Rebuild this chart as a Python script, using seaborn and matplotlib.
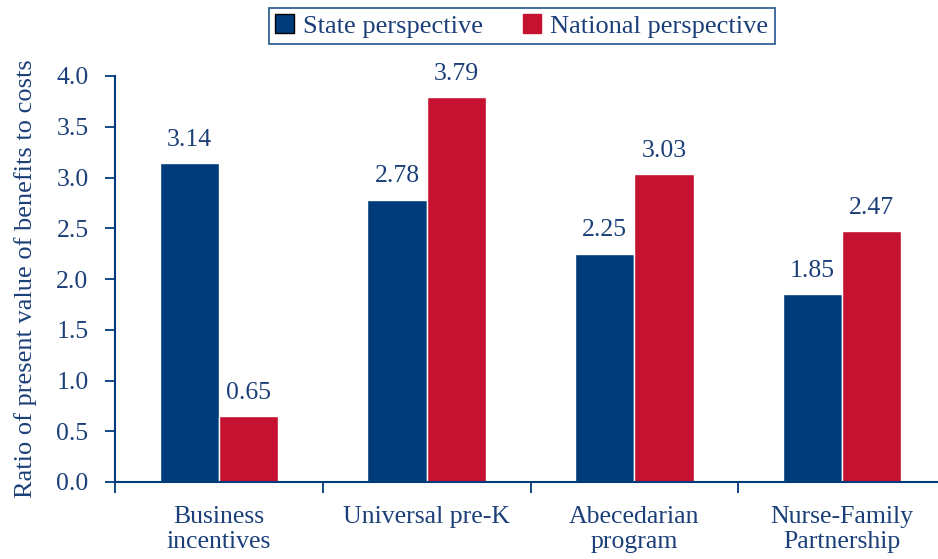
import matplotlib
matplotlib.use("Agg")
import matplotlib.pyplot as plt
import seaborn as sns
import pandas as pd

categories = ["Business\nincentives", "Universal pre-K", "Abecedarian\nprogram", "Nurse-Family\nPartnership"]
series = ["State perspective", "National perspective"]
state_values = [3.14, 2.78, 2.25, 1.85]
national_values = [0.65, 3.79, 3.03, 2.47]
yticks = [0.0, 0.5, 1.0, 1.5, 2.0, 2.5, 3.0, 3.5, 4.0]

navy = "#003B7A"
red = "#C41230"
text_c = "#1B3F78"

sns.set_theme(style="white")
plt.rcParams['font.family'] = ['Liberation Serif', 'DejaVu Serif']

df = pd.DataFrame({
    "category": categories * 2,
    "series": [series[0]] * 4 + [series[1]] * 4,
    "value": state_values + national_values,
})

fig = plt.figure(figsize=(9.38, 5.59), dpi=100)
ax = fig.add_axes([115/938, 77/559, (938-115)/938, 406/559])
sns.barplot(data=df, x="category", y="value", hue="series", order=categories,
            hue_order=series, palette=[navy, red], width=0.57, ax=ax,
            saturation=1, errorbar=None, legend=True)

for cont in ax.containers:
    ax.bar_label(cont, fmt="%.2f", padding=9, fontsize=18.5, color=text_c)

ax.set_ylim(0, 4.0)
ax.set_xlim(-0.5, 3.5 - 8/207.7)
ax.set_yticks(yticks)
ax.set_yticklabels([f"{v:.1f}" for v in yticks], fontsize=18.5, color=text_c)
ax.set_xticks([0, 1, 2, 3])
ax.set_xticklabels(categories, fontsize=18.5, color=text_c, linespacing=1.2)
ax.tick_params(axis='x', length=0, pad=17)
ax.tick_params(axis='y', length=7, width=1.3, color=navy, direction='out', pad=12, left=True)
ax.set_xticks([-0.5, 0.5, 1.5, 2.5], minor=True)
ax.tick_params(axis='x', which='minor', length=8, width=1.3, color=navy, direction='out', bottom=True)

ax.set_xlabel("")
ax.set_ylabel("Ratio of present value of benefits to costs", fontsize=19, color=text_c, labelpad=14)
for s in ["top", "right"]:
    ax.spines[s].set_visible(False)
for s in ["left", "bottom"]:
    ax.spines[s].set_color(navy)
    ax.spines[s].set_linewidth(1.5)

leg = ax.legend(loc="center", bbox_to_anchor=(522/938, 1 - 26/559), bbox_transform=fig.transFigure,
                ncol=2, frameon=True, fontsize=19, handlelength=0.7, handleheight=0.7,
                handletextpad=0.35, columnspacing=1.5, borderpad=0.25, fancybox=False)
leg.get_frame().set_edgecolor(navy)
leg.get_frame().set_linewidth(1.3)
for t in leg.get_texts():
    t.set_color(text_c)
hs = leg.legend_handles
hs[0].set_edgecolor("black")
hs[0].set_linewidth(1.0)
hs[1].set_edgecolor(red)

fig.savefig("out.png", dpi=100)
